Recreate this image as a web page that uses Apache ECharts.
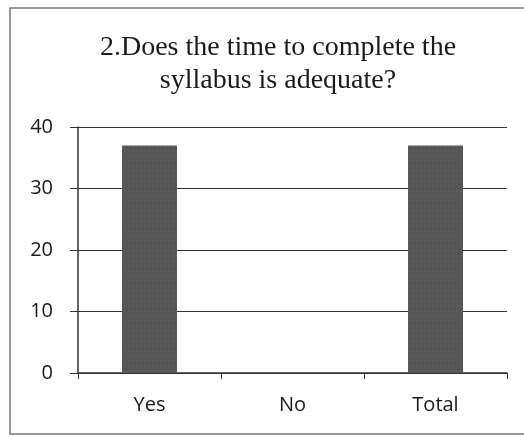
<!DOCTYPE html>
<html>
<head>
<meta charset="utf-8">
<script src="https://cdn.jsdelivr.net/npm/echarts@6/dist/echarts.min.js"></script>
<style>
  html, body { margin: 0; padding: 0; background: #fff; }
  #chart { width: 524px; height: 437px; }
</style>
</head>
<body>
<div id="chart"></div>
<script>
const categories = ['Yes', 'No', 'Total'];
const values = [37, 0, 37];
const titleText = '2.Does the time to complete the\nsyllabus is adequate?';

let myChart = echarts.init(document.getElementById('chart'));

let option = {
  backgroundColor: '#fff',
  animation: false,
  title: {
    text: titleText,
    left: 273,
    textAlign: 'center',
    top: 26,
    textStyle: {
      fontFamily: 'Liberation Serif',
      fontWeight: 'normal',
      fontSize: 28,
      lineHeight: 33,
      color: '#1a1a1a'
    }
  },
  graphic: [{
    type: 'rect',
    shape: { x: 10, y: 8, width: 530, height: 426 },
    style: { fill: 'none', stroke: '#777', lineWidth: 1.5 },
    silent: true
  }],
  grid: { left: 78, right: 17, top: 127, bottom: 64 },
  xAxis: {
    type: 'category',
    data: categories,
    axisLine: { lineStyle: { color: '#333', width: 1.5 } },
    axisTick: { show: true, length: 6, lineStyle: { color: '#333' } },
    axisLabel: {
      fontFamily: 'Open Sans',
      fontSize: 20,
      color: '#1a1a1a',
      margin: 22
    }
  },
  yAxis: {
    type: 'value',
    min: 0,
    max: 40,
    interval: 10,
    axisLine: { show: true, lineStyle: { color: '#333', width: 1.5 } },
    axisTick: { show: true, length: 8, lineStyle: { color: '#333' } },
    splitLine: { lineStyle: { color: '#333', width: 1.2 } },
    axisLabel: {
      fontFamily: 'Open Sans',
      fontSize: 20,
      color: '#1a1a1a',
      margin: 25
    }
  },
  series: [{
    type: 'bar',
    data: values,
    barWidth: 55,
    itemStyle: {
      color: '#555',
      decal: {
        symbol: 'rect',
        symbolSize: 0.5,
        color: 'rgba(255,255,255,0.18)',
        dashArrayX: [2, 2],
        dashArrayY: [2, 3],
        rotation: 0
      }
    }
  }]
};

option && myChart.setOption(option);
</script>
</body>
</html>
